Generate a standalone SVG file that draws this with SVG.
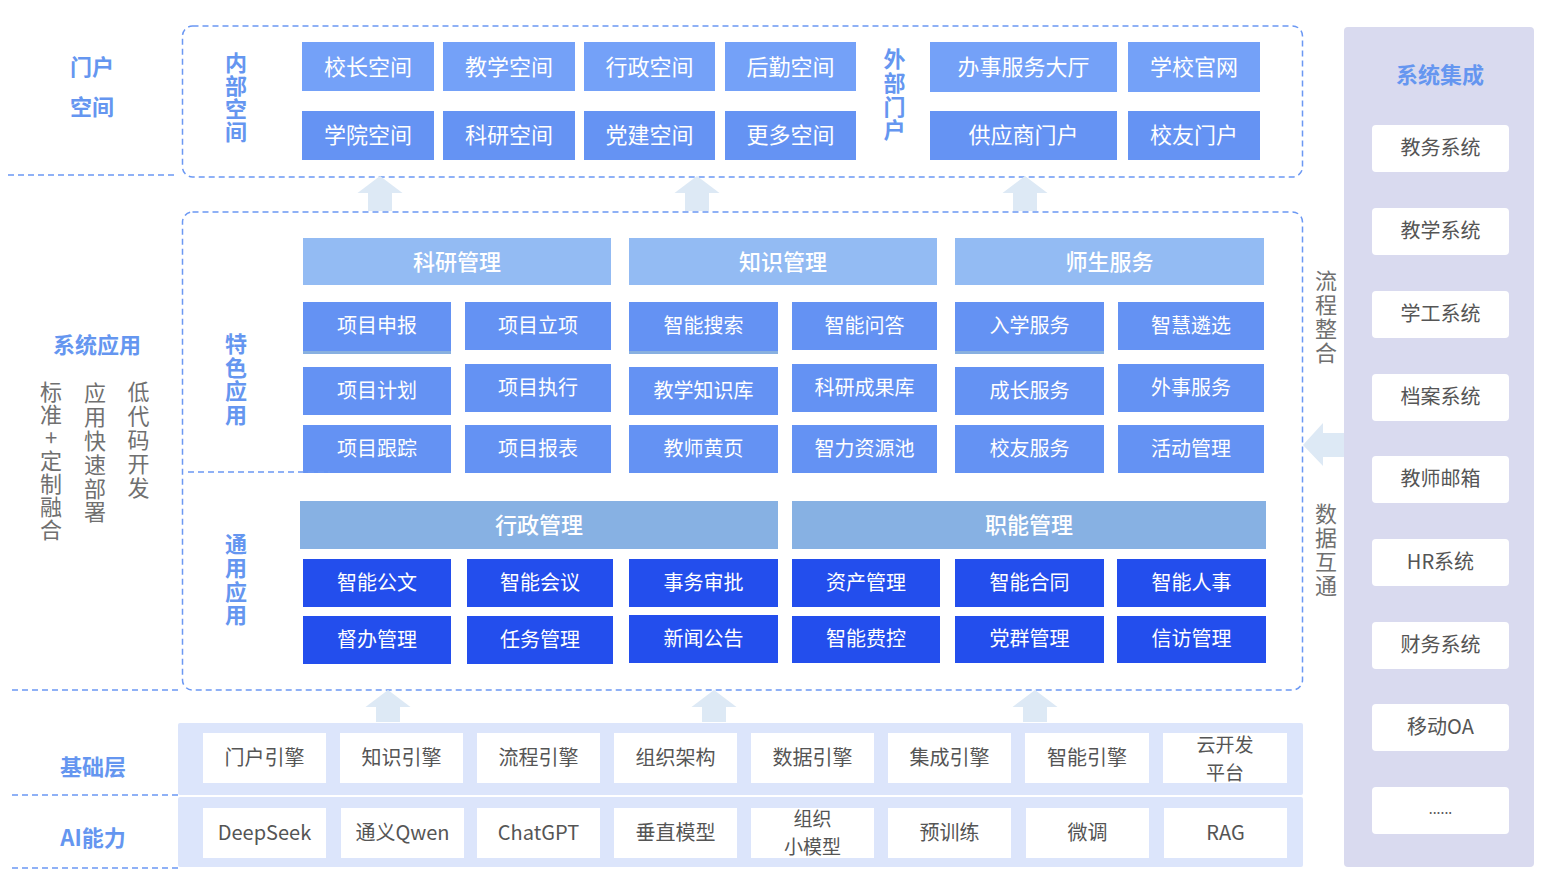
<svg xmlns="http://www.w3.org/2000/svg" width="1542" height="876" viewBox="0 0 1542 876">
<style>
text{font-family:"Noto Sans CJK SC","Noto Sans",sans-serif;text-anchor:middle;dominant-baseline:central;transform:translateY(-2px)}
.dash{fill:none;stroke:#6b98f3;stroke-width:1.5;stroke-dasharray:6 4}
.n1{fill:#74a1f8}.n2{fill:#6593f3}.nm{fill:#6492f3}.hd{fill:#93bbf3}.ha{fill:#87b1e3}.nd{fill:#234eed}
.strip{fill:#88b0e0}
.wb{fill:#fff}
.arr{fill:#dde9f5}
.tw{fill:#fff;font-size:20px}
.tt{fill:#fff;font-size:22px}
.th{fill:#fff;font-size:22px;font-weight:500}
.tg{fill:#555;font-size:20px}
.t2{fill:#555;font-size:19px}
.lb{fill:#6596f0;font-size:22px;font-weight:bold}
text.v{writing-mode:vertical-rl;text-orientation:upright;text-anchor:start;transform:none;font-size:22px}
.vb{fill:#6596f0;font-weight:bold}
.vg{fill:#707070}
</style>
<rect width="1542" height="876" fill="#fff"/>

<g id="frames">
<rect class="dash" x="182.5" y="26" width="1120" height="151" rx="10"/>
<rect class="dash" x="182.5" y="212" width="1120" height="478" rx="10"/>
<line class="dash" x1="8" y1="175" x2="174" y2="175"/>
<line class="dash" x1="12" y1="690" x2="180" y2="690"/>
<line class="dash" x1="12" y1="795" x2="178" y2="795"/>
<line class="dash" x1="12" y1="868" x2="178" y2="868"/>
</g>

<g id="connectors">
<polygon class="arr" points="380,176 402.5,193 392,193 392,211 368,211 368,193 357.5,193"/>
<polygon class="arr" points="697,176 719.5,193 709,193 709,211 685,211 685,193 674.5,193"/>
<polygon class="arr" points="1025,176 1047.5,193 1037,193 1037,211 1013,211 1013,193 1002.5,193"/>
<polygon class="arr" points="388,690 410.5,707 400,707 400,722 376,722 376,707 365.5,707"/>
<polygon class="arr" points="714,690 736.5,707 726,707 726,722 702,722 702,707 691.5,707"/>
<polygon class="arr" points="1035,690 1057.5,707 1047,707 1047,722 1023,722 1023,707 1012.5,707"/>
<polygon class="arr" points="1303,445 1323,423 1323,433 1345,433 1345,457 1323,457 1323,466"/>
</g>

<g id="left-labels">
<text class="lb" x="92" y="67">门户</text>
<text class="lb" x="92" y="107">空间</text>
<text class="lb" x="97" y="345">系统应用</text>
<text class="lb" x="93" y="767">基础层</text>
<text class="lb" x="93" y="838">AI能力</text>
<text class="v vg" x="51" y="381" style="letter-spacing:1px">标准+定制融合</text>
<text class="v vg" x="95" y="382" style="letter-spacing:1.8px">应用快速部署</text>
<text class="v vg" x="138.5" y="381" style="letter-spacing:1.8px">低代码开发</text>
</g>

<g id="section-labels">
<text class="v vb" x="236" y="52" style="letter-spacing:1px">内部空间</text>
<text class="v vb" x="894.5" y="48" style="letter-spacing:1.7px">外部门户</text>
<text class="v vb" x="236" y="333" style="letter-spacing:1.5px">特色应用</text>
<text class="v vb" x="236" y="533" style="letter-spacing:1.7px">通用应用</text>
<text class="v vg" x="1326" y="270" style="letter-spacing:2px">流程整合</text>
<text class="v vg" x="1326" y="503" style="letter-spacing:2px">数据互通</text>
</g>

<g id="portal">
<g id="n-xzkj"><rect class="n1" x="302" y="42" width="132" height="49"/><text class="tt" x="368" y="66.5">校长空间</text></g>
<g id="n-jxkj"><rect class="n1" x="443" y="42" width="132" height="49"/><text class="tt" x="509" y="66.5">教学空间</text></g>
<g id="n-xzkj2"><rect class="n1" x="584" y="42" width="131" height="49"/><text class="tt" x="649.5" y="66.5">行政空间</text></g>
<g id="n-hqkj"><rect class="n1" x="725" y="42" width="131" height="49"/><text class="tt" x="790.5" y="66.5">后勤空间</text></g>
<g id="n-xykj"><rect class="n2" x="302" y="111" width="132" height="49"/><text class="tt" x="368" y="135">学院空间</text></g>
<g id="n-kykj"><rect class="n2" x="443" y="111" width="132" height="49"/><text class="tt" x="509" y="135">科研空间</text></g>
<g id="n-djkj"><rect class="n2" x="584" y="111" width="131" height="49"/><text class="tt" x="649.5" y="135">党建空间</text></g>
<g id="n-gdkj"><rect class="n2" x="725" y="111" width="131" height="49"/><text class="tt" x="790.5" y="135">更多空间</text></g>
<g id="n-bsfwdt"><rect class="n1" x="930" y="42" width="187" height="50"/><text class="tt" x="1023.5" y="67">办事服务大厅</text></g>
<g id="n-xxgw"><rect class="n1" x="1128" y="42" width="132" height="50"/><text class="tt" x="1194" y="67">学校官网</text></g>
<g id="n-gysmh"><rect class="n2" x="930" y="111" width="187" height="49"/><text class="tt" x="1023.5" y="135">供应商门户</text></g>
<g id="n-xymh"><rect class="n2" x="1128" y="111" width="132" height="49"/><text class="tt" x="1194" y="135">校友门户</text></g>
</g>

<g id="apps">
<g id="h-kygl"><rect class="hd" x="303" y="238" width="308" height="47"/><text class="th" x="457" y="261.5">科研管理</text></g>
<g id="h-zsgl"><rect class="hd" x="629" y="238" width="308" height="47"/><text class="th" x="783" y="261.5">知识管理</text></g>
<g id="h-ssfw"><rect class="hd" x="955" y="238" width="309" height="47"/><text class="th" x="1109.5" y="261.5">师生服务</text></g>

<g id="n-xmsb"><rect class="strip" x="303" y="302" width="148" height="52"/><rect class="nm" x="303" y="302" width="148" height="49"/><text class="tw" x="377" y="326.5">项目申报</text></g>
<g id="n-xmlx"><rect class="nm" x="465" y="302" width="146" height="48"/><text class="tw" x="538" y="326">项目立项</text></g>
<g id="n-xmjh"><rect class="nm" x="303" y="367" width="148" height="48"/><text class="tw" x="377" y="391">项目计划</text></g>
<g id="n-xmzx"><rect class="nm" x="465" y="364" width="146" height="48"/><text class="tw" x="538" y="388">项目执行</text></g>
<g id="n-xmgz"><rect class="nm" x="303" y="425" width="148" height="48"/><text class="tw" x="377" y="449">项目跟踪</text></g>
<g id="n-xmbb"><rect class="nm" x="465" y="425" width="146" height="48"/><text class="tw" x="538" y="449">项目报表</text></g>

<g id="n-znss"><rect class="strip" x="629" y="302" width="149" height="52"/><rect class="nm" x="629" y="302" width="149" height="49"/><text class="tw" x="703.5" y="326.5">智能搜索</text></g>
<g id="n-znwd"><rect class="nm" x="792" y="302" width="145" height="48"/><text class="tw" x="864.5" y="326">智能问答</text></g>
<g id="n-jxzsk"><rect class="nm" x="629" y="367" width="149" height="48"/><text class="tw" x="703.5" y="391">教学知识库</text></g>
<g id="n-kycgk"><rect class="nm" x="792" y="364" width="145" height="48"/><text class="tw" x="864.5" y="388">科研成果库</text></g>
<g id="n-jshy"><rect class="nm" x="629" y="425" width="149" height="48"/><text class="tw" x="703.5" y="449">教师黄页</text></g>
<g id="n-zlzyc"><rect class="nm" x="792" y="425" width="145" height="48"/><text class="tw" x="864.5" y="449">智力资源池</text></g>

<g id="n-rxfw"><rect class="strip" x="955" y="302" width="149" height="52"/><rect class="nm" x="955" y="302" width="149" height="49"/><text class="tw" x="1029.5" y="326.5">入学服务</text></g>
<g id="n-zhlx"><rect class="nm" x="1118" y="302" width="146" height="48"/><text class="tw" x="1191" y="326">智慧遴选</text></g>
<g id="n-czfw"><rect class="nm" x="955" y="367" width="149" height="48"/><text class="tw" x="1029.5" y="391">成长服务</text></g>
<g id="n-wsfw"><rect class="nm" x="1118" y="364" width="146" height="48"/><text class="tw" x="1191" y="388">外事服务</text></g>
<g id="n-xyfw"><rect class="nm" x="955" y="425" width="149" height="48"/><text class="tw" x="1029.5" y="449">校友服务</text></g>
<g id="n-hdgl"><rect class="nm" x="1118" y="425" width="146" height="48"/><text class="tw" x="1191" y="449">活动管理</text></g>

<line class="dash" x1="188" y1="472" x2="330" y2="472"/>

<g id="h-xzgl"><rect class="ha" x="300" y="501" width="478" height="48"/><text class="th" x="539" y="525">行政管理</text></g>
<g id="h-zngl"><rect class="ha" x="792" y="501" width="474" height="48"/><text class="th" x="1029" y="525">职能管理</text></g>

<g id="n-zngw"><rect class="nd" x="303" y="559" width="148" height="48"/><text class="tw" x="377" y="583">智能公文</text></g>
<g id="n-znhy"><rect class="nd" x="467" y="559" width="146" height="48"/><text class="tw" x="540" y="583">智能会议</text></g>
<g id="n-swsp"><rect class="nd" x="629" y="559" width="149" height="48"/><text class="tw" x="703.5" y="583">事务审批</text></g>
<g id="n-dbgl"><rect class="nd" x="303" y="616" width="148" height="48"/><text class="tw" x="377" y="640">督办管理</text></g>
<g id="n-rwgl"><rect class="nd" x="467" y="616" width="146" height="48"/><text class="tw" x="540" y="640">任务管理</text></g>
<g id="n-xwgg"><rect class="nd" x="629" y="615" width="149" height="48"/><text class="tw" x="703.5" y="639">新闻公告</text></g>
<g id="n-zcgl"><rect class="nd" x="792" y="559" width="148" height="48"/><text class="tw" x="866" y="583">资产管理</text></g>
<g id="n-znht"><rect class="nd" x="955" y="559" width="149" height="48"/><text class="tw" x="1029.5" y="583">智能合同</text></g>
<g id="n-znrs"><rect class="nd" x="1117" y="559" width="149" height="48"/><text class="tw" x="1191.5" y="583">智能人事</text></g>
<g id="n-znfk"><rect class="nd" x="792" y="616" width="148" height="47"/><text class="tw" x="866" y="639.5">智能费控</text></g>
<g id="n-dqgl"><rect class="nd" x="955" y="616" width="149" height="47"/><text class="tw" x="1029.5" y="639.5">党群管理</text></g>
<g id="n-xfgl"><rect class="nd" x="1117" y="616" width="149" height="47"/><text class="tw" x="1191.5" y="639.5">信访管理</text></g>
</g>

<g id="base">
<rect fill="#dce5fb" x="178" y="723" width="1125" height="72" rx="2"/>
<rect fill="#dce5fb" x="178" y="797" width="1125" height="70" rx="2"/>
<g id="b1"><rect class="wb" x="203" y="733" width="123" height="50"/><text class="tg" x="264.5" y="758">门户引擎</text></g>
<g id="b2"><rect class="wb" x="340" y="733" width="123" height="50"/><text class="tg" x="401.5" y="758">知识引擎</text></g>
<g id="b3"><rect class="wb" x="477" y="733" width="123" height="50"/><text class="tg" x="538.5" y="758">流程引擎</text></g>
<g id="b4"><rect class="wb" x="614" y="733" width="123" height="50"/><text class="tg" x="675.5" y="758">组织架构</text></g>
<g id="b5"><rect class="wb" x="751" y="733" width="123" height="50"/><text class="tg" x="812.5" y="758">数据引擎</text></g>
<g id="b6"><rect class="wb" x="888" y="733" width="123" height="50"/><text class="tg" x="949.5" y="758">集成引擎</text></g>
<g id="b7"><rect class="wb" x="1025" y="733" width="124" height="50"/><text class="tg" x="1087" y="758">智能引擎</text></g>
<g id="b8"><rect class="wb" x="1163" y="733" width="124" height="50"/><text class="t2" x="1225" y="745">云开发</text><text class="t2" x="1225" y="773">平台</text></g>

<g id="a1"><rect class="wb" x="203" y="808" width="123" height="50"/><text class="tg" x="264.5" y="833">DeepSeek</text></g>
<g id="a2"><rect class="wb" x="341" y="808" width="123" height="50"/><text class="tg" x="402.5" y="833">通义Qwen</text></g>
<g id="a3"><rect class="wb" x="477" y="808" width="123" height="50"/><text class="tg" x="538.5" y="833">ChatGPT</text></g>
<g id="a4"><rect class="wb" x="614" y="808" width="123" height="50"/><text class="tg" x="675.5" y="833">垂直模型</text></g>
<g id="a5"><rect class="wb" x="751" y="808" width="123" height="50"/><text class="t2" x="812.5" y="819">组织</text><text class="t2" x="812.5" y="847">小模型</text></g>
<g id="a6"><rect class="wb" x="888" y="808" width="123" height="50"/><text class="tg" x="949.5" y="833">预训练</text></g>
<g id="a7"><rect class="wb" x="1026" y="808" width="123" height="50"/><text class="tg" x="1087.5" y="833">微调</text></g>
<g id="a8"><rect class="wb" x="1164" y="808" width="123" height="50"/><text class="tg" x="1225.5" y="833">RAG</text></g>
</g>

<g id="integration">
<rect fill="#d9daef" x="1344" y="27" width="190" height="840" rx="4"/>
<text class="lb" x="1440" y="75">系统集成</text>
<g id="s1"><rect class="wb" x="1372" y="125" width="137" height="47" rx="4"/><text class="tg" x="1440.5" y="148.5">教务系统</text></g>
<g id="s2"><rect class="wb" x="1372" y="208" width="137" height="47" rx="4"/><text class="tg" x="1440.5" y="231.5">教学系统</text></g>
<g id="s3"><rect class="wb" x="1372" y="291" width="137" height="47" rx="4"/><text class="tg" x="1440.5" y="314.5">学工系统</text></g>
<g id="s4"><rect class="wb" x="1372" y="374" width="137" height="47" rx="4"/><text class="tg" x="1440.5" y="397.5">档案系统</text></g>
<g id="s5"><rect class="wb" x="1372" y="456" width="137" height="47" rx="4"/><text class="tg" x="1440.5" y="479.5">教师邮箱</text></g>
<g id="s6"><rect class="wb" x="1372" y="539" width="137" height="47" rx="4"/><text class="tg" x="1440.5" y="562.5">HR系统</text></g>
<g id="s7"><rect class="wb" x="1372" y="622" width="137" height="47" rx="4"/><text class="tg" x="1440.5" y="645.5">财务系统</text></g>
<g id="s8"><rect class="wb" x="1372" y="704" width="137" height="47" rx="4"/><text class="tg" x="1440.5" y="727.5">移动OA</text></g>
<g id="s9"><rect class="wb" x="1372" y="787" width="137" height="47" rx="4"/><text class="tg" x="1440.5" y="810" style="font-size:14px">......</text></g>
</g>
</svg>
